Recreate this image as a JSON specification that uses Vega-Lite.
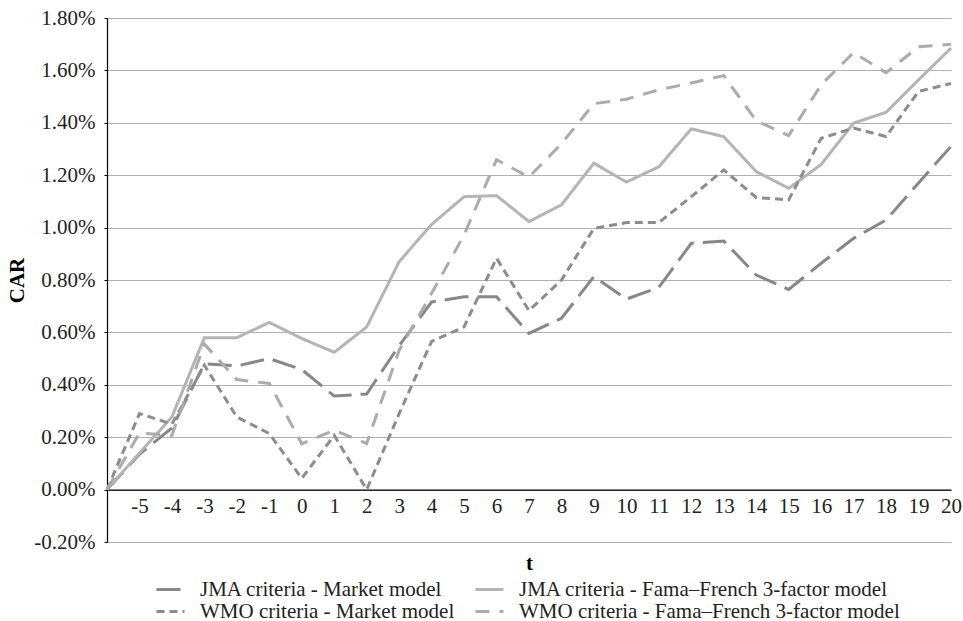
{
  "$schema": "https://vega.github.io/schema/vega-lite/v6.json",
  "autosize": "none",
  "width": 844,
  "height": 524,
  "padding": {"left": 107, "top": 18, "right": 12, "bottom": 79},
  "background": "white",
  "config": {
    "view": {"stroke": null},
    "font": "Liberation Serif"
  },
  "datasets": {
    "car": [
      {"t": -6, "series": "JMA criteria - Market model", "CAR": 0},
      {"t": -5, "series": "JMA criteria - Market model", "CAR": 0.135},
      {"t": -4, "series": "JMA criteria - Market model", "CAR": 0.235},
      {"t": -3, "series": "JMA criteria - Market model", "CAR": 0.48},
      {"t": -2, "series": "JMA criteria - Market model", "CAR": 0.472},
      {"t": -1, "series": "JMA criteria - Market model", "CAR": 0.5},
      {"t": 0, "series": "JMA criteria - Market model", "CAR": 0.458},
      {"t": 1, "series": "JMA criteria - Market model", "CAR": 0.357},
      {"t": 2, "series": "JMA criteria - Market model", "CAR": 0.365},
      {"t": 3, "series": "JMA criteria - Market model", "CAR": 0.55},
      {"t": 4, "series": "JMA criteria - Market model", "CAR": 0.716},
      {"t": 5, "series": "JMA criteria - Market model", "CAR": 0.736},
      {"t": 6, "series": "JMA criteria - Market model", "CAR": 0.736},
      {"t": 7, "series": "JMA criteria - Market model", "CAR": 0.596},
      {"t": 8, "series": "JMA criteria - Market model", "CAR": 0.654},
      {"t": 9, "series": "JMA criteria - Market model", "CAR": 0.813},
      {"t": 10, "series": "JMA criteria - Market model", "CAR": 0.727},
      {"t": 11, "series": "JMA criteria - Market model", "CAR": 0.772},
      {"t": 12, "series": "JMA criteria - Market model", "CAR": 0.94},
      {"t": 13, "series": "JMA criteria - Market model", "CAR": 0.949},
      {"t": 14, "series": "JMA criteria - Market model", "CAR": 0.819},
      {"t": 15, "series": "JMA criteria - Market model", "CAR": 0.764},
      {"t": 16, "series": "JMA criteria - Market model", "CAR": 0.864},
      {"t": 17, "series": "JMA criteria - Market model", "CAR": 0.959},
      {"t": 18, "series": "JMA criteria - Market model", "CAR": 1.029},
      {"t": 19, "series": "JMA criteria - Market model", "CAR": 1.17},
      {"t": 20, "series": "JMA criteria - Market model", "CAR": 1.31},
      {"t": -6, "series": "JMA criteria - Fama–French 3-factor model", "CAR": 0},
      {"t": -5, "series": "JMA criteria - Fama–French 3-factor model", "CAR": 0.14},
      {"t": -4, "series": "JMA criteria - Fama–French 3-factor model", "CAR": 0.277},
      {"t": -3, "series": "JMA criteria - Fama–French 3-factor model", "CAR": 0.58},
      {"t": -2, "series": "JMA criteria - Fama–French 3-factor model", "CAR": 0.58},
      {"t": -1, "series": "JMA criteria - Fama–French 3-factor model", "CAR": 0.638},
      {"t": 0, "series": "JMA criteria - Fama–French 3-factor model", "CAR": 0.577},
      {"t": 1, "series": "JMA criteria - Fama–French 3-factor model", "CAR": 0.524},
      {"t": 2, "series": "JMA criteria - Fama–French 3-factor model", "CAR": 0.621},
      {"t": 3, "series": "JMA criteria - Fama–French 3-factor model", "CAR": 0.87},
      {"t": 4, "series": "JMA criteria - Fama–French 3-factor model", "CAR": 1.012},
      {"t": 5, "series": "JMA criteria - Fama–French 3-factor model", "CAR": 1.118},
      {"t": 6, "series": "JMA criteria - Fama–French 3-factor model", "CAR": 1.122},
      {"t": 7, "series": "JMA criteria - Fama–French 3-factor model", "CAR": 1.023},
      {"t": 8, "series": "JMA criteria - Fama–French 3-factor model", "CAR": 1.087},
      {"t": 9, "series": "JMA criteria - Fama–French 3-factor model", "CAR": 1.246},
      {"t": 10, "series": "JMA criteria - Fama–French 3-factor model", "CAR": 1.174},
      {"t": 11, "series": "JMA criteria - Fama–French 3-factor model", "CAR": 1.232},
      {"t": 12, "series": "JMA criteria - Fama–French 3-factor model", "CAR": 1.377},
      {"t": 13, "series": "JMA criteria - Fama–French 3-factor model", "CAR": 1.347},
      {"t": 14, "series": "JMA criteria - Fama–French 3-factor model", "CAR": 1.214},
      {"t": 15, "series": "JMA criteria - Fama–French 3-factor model", "CAR": 1.15},
      {"t": 16, "series": "JMA criteria - Fama–French 3-factor model", "CAR": 1.241},
      {"t": 17, "series": "JMA criteria - Fama–French 3-factor model", "CAR": 1.399},
      {"t": 18, "series": "JMA criteria - Fama–French 3-factor model", "CAR": 1.44},
      {"t": 19, "series": "JMA criteria - Fama–French 3-factor model", "CAR": 1.564},
      {"t": 20, "series": "JMA criteria - Fama–French 3-factor model", "CAR": 1.685},
      {"t": -6, "series": "WMO criteria - Market model", "CAR": 0},
      {"t": -5, "series": "WMO criteria - Market model", "CAR": 0.29},
      {"t": -4, "series": "WMO criteria - Market model", "CAR": 0.25},
      {"t": -3, "series": "WMO criteria - Market model", "CAR": 0.475},
      {"t": -2, "series": "WMO criteria - Market model", "CAR": 0.277},
      {"t": -1, "series": "WMO criteria - Market model", "CAR": 0.214},
      {"t": 0, "series": "WMO criteria - Market model", "CAR": 0.043},
      {"t": 1, "series": "WMO criteria - Market model", "CAR": 0.207},
      {"t": 2, "series": "WMO criteria - Market model", "CAR": 0.0},
      {"t": 3, "series": "WMO criteria - Market model", "CAR": 0.29},
      {"t": 4, "series": "WMO criteria - Market model", "CAR": 0.566},
      {"t": 5, "series": "WMO criteria - Market model", "CAR": 0.621},
      {"t": 6, "series": "WMO criteria - Market model", "CAR": 0.883},
      {"t": 7, "series": "WMO criteria - Market model", "CAR": 0.683},
      {"t": 8, "series": "WMO criteria - Market model", "CAR": 0.8},
      {"t": 9, "series": "WMO criteria - Market model", "CAR": 0.997},
      {"t": 10, "series": "WMO criteria - Market model", "CAR": 1.019},
      {"t": 11, "series": "WMO criteria - Market model", "CAR": 1.019},
      {"t": 12, "series": "WMO criteria - Market model", "CAR": 1.118},
      {"t": 13, "series": "WMO criteria - Market model", "CAR": 1.22},
      {"t": 14, "series": "WMO criteria - Market model", "CAR": 1.115},
      {"t": 15, "series": "WMO criteria - Market model", "CAR": 1.106},
      {"t": 16, "series": "WMO criteria - Market model", "CAR": 1.341},
      {"t": 17, "series": "WMO criteria - Market model", "CAR": 1.38},
      {"t": 18, "series": "WMO criteria - Market model", "CAR": 1.348},
      {"t": 19, "series": "WMO criteria - Market model", "CAR": 1.52},
      {"t": 20, "series": "WMO criteria - Market model", "CAR": 1.55},
      {"t": -6, "series": "WMO criteria - Fama–French 3-factor model", "CAR": 0},
      {"t": -5, "series": "WMO criteria - Fama–French 3-factor model", "CAR": 0.216},
      {"t": -4, "series": "WMO criteria - Fama–French 3-factor model", "CAR": 0.207},
      {"t": -3, "series": "WMO criteria - Fama–French 3-factor model", "CAR": 0.555},
      {"t": -2, "series": "WMO criteria - Fama–French 3-factor model", "CAR": 0.42},
      {"t": -1, "series": "WMO criteria - Fama–French 3-factor model", "CAR": 0.405},
      {"t": 0, "series": "WMO criteria - Fama–French 3-factor model", "CAR": 0.175},
      {"t": 1, "series": "WMO criteria - Fama–French 3-factor model", "CAR": 0.227},
      {"t": 2, "series": "WMO criteria - Fama–French 3-factor model", "CAR": 0.176},
      {"t": 3, "series": "WMO criteria - Fama–French 3-factor model", "CAR": 0.532},
      {"t": 4, "series": "WMO criteria - Fama–French 3-factor model", "CAR": 0.749},
      {"t": 5, "series": "WMO criteria - Fama–French 3-factor model", "CAR": 0.972},
      {"t": 6, "series": "WMO criteria - Fama–French 3-factor model", "CAR": 1.259},
      {"t": 7, "series": "WMO criteria - Fama–French 3-factor model", "CAR": 1.193},
      {"t": 8, "series": "WMO criteria - Fama–French 3-factor model", "CAR": 1.32},
      {"t": 9, "series": "WMO criteria - Fama–French 3-factor model", "CAR": 1.473},
      {"t": 10, "series": "WMO criteria - Fama–French 3-factor model", "CAR": 1.49},
      {"t": 11, "series": "WMO criteria - Fama–French 3-factor model", "CAR": 1.526},
      {"t": 12, "series": "WMO criteria - Fama–French 3-factor model", "CAR": 1.552},
      {"t": 13, "series": "WMO criteria - Fama–French 3-factor model", "CAR": 1.58},
      {"t": 14, "series": "WMO criteria - Fama–French 3-factor model", "CAR": 1.408},
      {"t": 15, "series": "WMO criteria - Fama–French 3-factor model", "CAR": 1.351},
      {"t": 16, "series": "WMO criteria - Fama–French 3-factor model", "CAR": 1.545},
      {"t": 17, "series": "WMO criteria - Fama–French 3-factor model", "CAR": 1.668},
      {"t": 18, "series": "WMO criteria - Fama–French 3-factor model", "CAR": 1.591},
      {"t": 19, "series": "WMO criteria - Fama–French 3-factor model", "CAR": 1.69},
      {"t": 20, "series": "WMO criteria - Fama–French 3-factor model", "CAR": 1.7}
    ]
  },
  "data": {"name": "car"},
  "mark": {"type": "line", "strokeWidth": 3, "strokeJoin": "miter", "strokeCap": "butt", "clip": false},
  "encoding": {
    "x": {
      "field": "t",
      "type": "quantitative",
      "scale": {"domain": [-6, 20], "nice": false, "zero": false},
      "axis": {
        "title": "t",
        "titleFont": "Liberation Serif",
        "titleFontSize": 21,
        "titleFontWeight": "bold",
        "titleColor": "black",
        "titlePadding": 36,
        "values": [-5, -4, -3, -2, -1, 0, 1, 2, 3, 4, 5, 6, 7, 8, 9, 10, 11, 12, 13, 14, 15, 16, 17, 18, 19, 20],
        "labelExpr": "datum.value < 0 ? '-' + format(-datum.value, 'd') : format(datum.value, 'd')",
        "labelFont": "Liberation Serif",
        "labelFontSize": 21,
        "labelColor": "#222222",
        "labelPadding": 6,
        "labelFlush": false,
        "labelOverlap": false,
        "ticks": false,
        "grid": false,
        "domainColor": "black",
        "domainWidth": 1.2,
        "offset": -52.4
      }
    },
    "y": {
      "field": "CAR",
      "type": "quantitative",
      "scale": {"domain": [-0.2, 1.8], "nice": false, "zero": false},
      "axis": {
        "title": "CAR",
        "titleFont": "Liberation Serif",
        "titleFontSize": 21,
        "titleFontWeight": "bold",
        "titleColor": "black",
        "titlePadding": 6,
        "values": [-0.2, 0, 0.2, 0.4, 0.6, 0.8, 1.0, 1.2, 1.4, 1.6, 1.8],
        "labelExpr": "datum.value < 0 ? '-' + format(-datum.value, '.2f') + '%' : format(datum.value, '.2f') + '%'",
        "labelFont": "Liberation Serif",
        "labelFontSize": 21,
        "labelColor": "#222222",
        "labelPadding": 9,
        "labelFlush": false,
        "tickSize": 3,
        "tickColor": "black",
        "domainColor": "black",
        "domainWidth": 1.2,
        "grid": true,
        "gridColor": "#b0b0b0",
        "gridWidth": 1.2
      }
    },
    "color": {
      "field": "series",
      "type": "nominal",
      "scale": {
        "domain": ["JMA criteria - Market model", "JMA criteria - Fama–French 3-factor model", "WMO criteria - Market model", "WMO criteria - Fama–French 3-factor model"],
        "range": ["#87878a", "#b4b4b4", "#8c8c90", "#ababab"]
      },
      "legend": {
        "title": null,
        "orient": "none",
        "direction": "horizontal",
        "legendX": 48,
        "legendY": 561,
        "columns": 2,
        "columnPadding": 19,
        "rowPadding": 0,
        "clipHeight": 21,
        "symbolType": "stroke",
        "symbolSize": 784,
        "symbolStrokeWidth": 3,
        "labelFont": "Liberation Serif",
        "labelFontSize": 21,
        "labelColor": "#222222",
        "labelOffset": 14,
        "labelLimit": 0
      }
    },
    "strokeDash": {
      "field": "series",
      "type": "nominal",
      "scale": {
        "domain": ["JMA criteria - Market model", "JMA criteria - Fama–French 3-factor model", "WMO criteria - Market model", "WMO criteria - Fama–French 3-factor model"],
        "range": [[24, 9], [1, 0], [8, 5], [14, 10]]
      }
    },
    "order": {"field": "t", "type": "quantitative"}
  }
}
